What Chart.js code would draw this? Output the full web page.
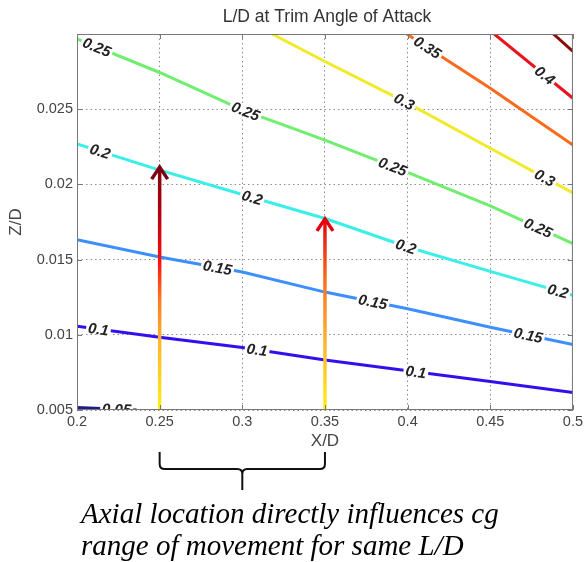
<!DOCTYPE html>
<html>
<head>
<meta charset="utf-8">
<script src="https://cdn.jsdelivr.net/npm/chart.js@4.4.0/dist/chart.umd.min.js"></script>
<style>
  html, body { margin: 0; padding: 0; background: #fff; }
  canvas { display: block; }
</style>
</head>
<body>
<canvas id="chart" width="586" height="562"></canvas>
<script>
// contour levels of L/D
const levels = ['0.05', '0.1', '0.15', '0.2', '0.25', '0.3', '0.35', '0.4', '0.45'];
const levelColors = ['#1c1c8a', '#3210ee', '#3d8ffc', '#3ceee8', '#70ee70', '#f0ea2a', '#fb6a1e', '#e8141e', '#8a0a0a'];

// contour lines (X/D, Z/D)
const gridX = [0.2, 0.25, 0.3, 0.35, 0.4, 0.45, 0.5];
const ld005X = [0.2, 0.236];
const ld005Y = [0.00517, 0.005];
const ld010Y = [0.01057, 0.00983, 0.00916, 0.00832, 0.00761, 0.00689, 0.00616];
const ld015Y = [0.01633, 0.01517, 0.01417, 0.01284, 0.01173, 0.0105, 0.00935];
const ld020Y = [0.02269, 0.02095, 0.01933, 0.01773, 0.01584, 0.01422, 0.01262];
const ld025Y = [0.02967, 0.02744, 0.02495, 0.02295, 0.0208, 0.01857, 0.01606];
const ld030X = [0.318, 0.35, 0.4, 0.45, 0.5];
const ld030Y = [0.03, 0.02817, 0.0254, 0.0224, 0.01944];
const ld035X = [0.3995, 0.45, 0.5];
const ld035Y = [0.03, 0.0264, 0.02262];
const ld040X = [0.4524, 0.5];
const ld040Y = [0.03, 0.02573];
const ld045X = [0.4882, 0.5];
const ld045Y = [0.03, 0.02884];

// where the inline contour labels sit (X/D)
const labelsAt = [
  [0.224],
  [0.213, 0.309, 0.405],
  [0.285, 0.379, 0.473],
  [0.214, 0.306, 0.399, 0.491],
  [0.212, 0.302, 0.391, 0.479],
  [0.398, 0.483],
  [0.412],
  [0.483],
  []
];

// cg travel arrows
const arrowX = [0.25, 0.35];
const arrowBase = [0.005, 0.005];
const arrowTip = [0.02128, 0.01784];

// ticks
const xTickValues = [0.2, 0.25, 0.3, 0.35, 0.4, 0.45, 0.5];
const yTickValues = [0.005, 0.01, 0.015, 0.02, 0.025];

const chartTitle = 'L/D at Trim Angle of Attack';
const xTitle = 'X/D';
const yTitle = 'Z/D';
const caption = ['Axial location directly influences cg', 'range of movement for same L/D'];

const lineXs = [ld005X, gridX, gridX, gridX, gridX, ld030X, ld035X, ld040X, ld045X];
const lineYs = [ld005Y, ld010Y, ld015Y, ld020Y, ld025Y, ld030Y, ld035Y, ld040Y, ld045Y];

const SANS = "'Liberation Sans', Arial, sans-serif";
Chart.defaults.font.family = SANS;

function valueAt(xs, ys, x) {
  if (x <= xs[0]) return ys[0];
  for (let i = 1; i < xs.length; i++) {
    if (x <= xs[i]) {
      const t = (x - xs[i - 1]) / (xs[i] - xs[i - 1]);
      return ys[i - 1] + t * (ys[i] - ys[i - 1]);
    }
  }
  return ys[ys.length - 1];
}

const overlay = {
  id: 'overlay',
  afterDatasetsDraw(chart) {
    const ctx = chart.ctx;
    const xs = chart.scales.x, ys = chart.scales.y;
    const area = chart.chartArea;

    // arrows with a yellow -> red gradient
    const stops = [
      [[0, '#fff01a'], [0.28, '#ffb432'], [0.45, '#ff7a22'], [0.6, '#ff1212'], [0.8, '#b3000f'], [1, '#7c0010']],
      [[0, '#fff01a'], [0.35, '#ffb432'], [0.65, '#ff7322'], [1, '#e0000e']]
    ];
    arrowX.forEach((ax, i) => {
      const px = xs.getPixelForValue(ax);
      const y0 = ys.getPixelForValue(arrowBase[i]);
      const y1 = ys.getPixelForValue(arrowTip[i]);
      const g = ctx.createLinearGradient(0, y0, 0, y1);
      stops[i].forEach(s => g.addColorStop(s[0], s[1]));
      ctx.save();
      ctx.strokeStyle = g;
      ctx.lineWidth = 3.5;
      ctx.beginPath();
      ctx.moveTo(px, y0);
      ctx.lineTo(px, y1 + 2);
      ctx.stroke();
      ctx.strokeStyle = stops[i][stops[i].length - 1][1];
      ctx.lineWidth = 3.5;
      ctx.lineJoin = 'miter';
      ctx.beginPath();
      ctx.moveTo(px - 8, y1 + 14);
      ctx.lineTo(px, y1 + 2);
      ctx.lineTo(px + 8, y1 + 14);
      ctx.stroke();
      ctx.restore();
    });

    // inline contour labels
    ctx.save();
    ctx.beginPath();
    ctx.rect(area.left, area.top, area.right - area.left, area.bottom - area.top);
    ctx.clip();
    ctx.font = 'italic bold 15px ' + SANS;
    ctx.textAlign = 'center';
    ctx.textBaseline = 'middle';
    labelsAt.forEach((list, k) => {
      list.forEach(lx => {
        const px = xs.getPixelForValue(lx);
        const py = ys.getPixelForValue(valueAt(lineXs[k], lineYs[k], lx));
        const pa = xs.getPixelForValue(lx - 0.01), pb = xs.getPixelForValue(lx + 0.01);
        const qa = ys.getPixelForValue(valueAt(lineXs[k], lineYs[k], lx - 0.01));
        const qb = ys.getPixelForValue(valueAt(lineXs[k], lineYs[k], lx + 0.01));
        const ang = Math.atan2(qb - qa, pb - pa);
        const w = ctx.measureText(levels[k]).width;
        ctx.save();
        ctx.translate(px, py);
        ctx.rotate(ang);
        ctx.fillStyle = '#fff';
        ctx.fillRect(-w / 2 - 2, -5, w + 4, 10);
        ctx.fillStyle = '#222';
        ctx.fillText(levels[k], 0, 1);
        ctx.restore();
      });
    });
    ctx.restore();
  },
  afterDraw(chart) {
    const ctx = chart.ctx;
    const xs = chart.scales.x, ys = chart.scales.y;
    const a = chart.chartArea;

    // axes box and inward ticks
    ctx.save();
    ctx.strokeStyle = '#777';
    ctx.lineWidth = 1;
    ctx.strokeRect(a.left + 0.5, a.top + 0.5, a.right - a.left - 1, a.bottom - a.top - 1);
    ctx.beginPath();
    xTickValues.forEach(v => {
      const p = Math.round(xs.getPixelForValue(v)) + 0.5;
      ctx.moveTo(p, a.bottom); ctx.lineTo(p, a.bottom - 5);
      ctx.moveTo(p, a.top); ctx.lineTo(p, a.top + 5);
    });
    yTickValues.forEach(v => {
      const p = Math.round(ys.getPixelForValue(v)) + 0.5;
      ctx.moveTo(a.left, p); ctx.lineTo(a.left + 5, p);
      ctx.moveTo(a.right, p); ctx.lineTo(a.right - 5, p);
    });
    ctx.stroke();

    // titles
    ctx.fillStyle = '#333';
    ctx.textAlign = 'center';
    ctx.textBaseline = 'alphabetic';
    ctx.font = '17.5px ' + SANS;
    ctx.fillText(chartTitle, 327, 22);
    ctx.fillStyle = '#444';
    ctx.font = '17px ' + SANS;
    ctx.fillText(xTitle, (a.left + a.right) / 2, 446);
    ctx.save();
    ctx.translate(21, (a.top + a.bottom) / 2);
    ctx.rotate(-Math.PI / 2);
    ctx.fillText(yTitle, 0, 0);
    ctx.restore();

    // curly bracket under the two arrows
    const bx1 = xs.getPixelForValue(arrowX[0]);
    const bx2 = xs.getPixelForValue(arrowX[1]);
    const mid = (bx1 + bx2) / 2;
    ctx.strokeStyle = '#111';
    ctx.lineWidth = 2;
    ctx.beginPath();
    ctx.moveTo(bx1, 452);
    ctx.lineTo(bx1, 464);
    ctx.quadraticCurveTo(bx1, 469, bx1 + 5, 469);
    ctx.lineTo(mid - 5, 469);
    ctx.quadraticCurveTo(mid, 469, mid, 474);
    ctx.lineTo(mid, 490);
    ctx.moveTo(mid, 474);
    ctx.quadraticCurveTo(mid, 469, mid + 5, 469);
    ctx.lineTo(bx2 - 5, 469);
    ctx.quadraticCurveTo(bx2, 469, bx2, 464);
    ctx.lineTo(bx2, 452);
    ctx.stroke();

    // caption
    ctx.fillStyle = '#000';
    ctx.textAlign = 'left';
    ctx.font = "italic 29px 'Liberation Serif', 'Times New Roman', serif";
    ctx.fillText(caption[0], 81, 523);
    ctx.fillText(caption[1], 81, 555);
    ctx.restore();
  }
};

new Chart(document.getElementById('chart'), {
  type: 'scatter',
  data: {
    datasets: levels.map((lv, k) => ({
      label: lv,
      data: lineXs[k].map((x, i) => ({ x: x, y: lineYs[k][i] })),
      showLine: true,
      borderColor: levelColors[k],
      backgroundColor: levelColors[k],
      borderWidth: 3,
      pointRadius: 0,
      tension: 0
    }))
  },
  options: {
    responsive: false,
    animation: false,
    events: [],
    layout: { padding: { left: 0, right: 13, top: 34, bottom: 0 } },
    plugins: {
      legend: { display: false },
      tooltip: { enabled: false },
      title: { display: false }
    },
    scales: {
      x: {
        type: 'linear',
        min: 0.2,
        max: 0.5,
        afterBuildTicks: s => { s.ticks = xTickValues.map(v => ({ value: v })); },
        afterFit: s => { s.height = 152; },
        ticks: {
          color: '#444',
          font: { size: 14.5 },
          padding: 3,
          maxRotation: 0,
          callback: v => String(v)
        },
        grid: { color: '#8c8c8c', drawTicks: false, lineWidth: 1 },
        border: { display: false, dash: [1.5, 3] }
      },
      y: {
        type: 'linear',
        min: 0.005,
        max: 0.03,
        afterBuildTicks: s => { s.ticks = yTickValues.map(v => ({ value: v })); },
        afterFit: s => { s.width = 77; },
        ticks: {
          color: '#444',
          font: { size: 14.5 },
          padding: 4,
          callback: v => String(v)
        },
        grid: { color: '#8c8c8c', drawTicks: false, lineWidth: 1 },
        border: { display: false, dash: [1.5, 3] }
      }
    }
  },
  plugins: [overlay]
});
</script>
</body>
</html>
